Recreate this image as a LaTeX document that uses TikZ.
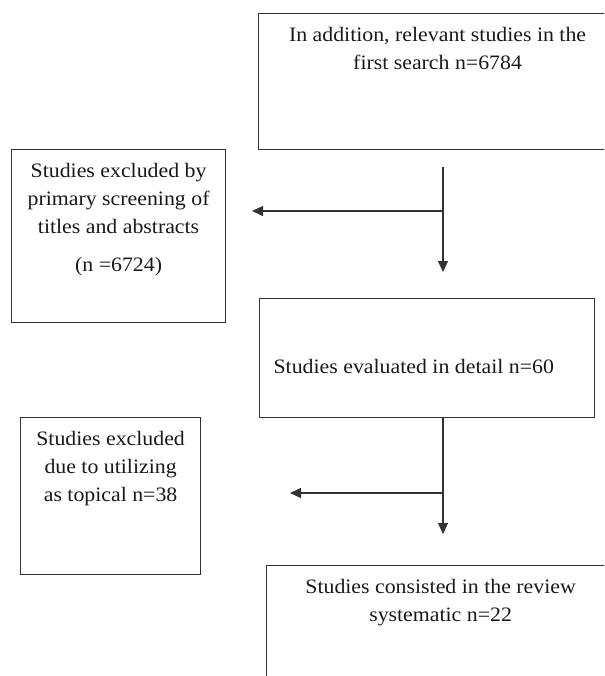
\documentclass[tikz,border=0pt]{standalone}
\usepackage{fontspec}
\setmainfont{Liberation Serif}[FakeStretch=1.065]
\usetikzlibrary{arrows.meta,positioning}

\begin{document}
\begin{tikzpicture}[x=1pt,y=-1pt,line width=1.2pt,>={Triangle[length=11pt,width=10pt]},
  box/.style={draw=black!80,line width=1.2pt,inner sep=0pt,anchor=north west},
  txt/.style={text=black!90,font=\fontsize{20.5}{28}\selectfont,align=center,inner sep=0pt}]
\useasboundingbox (0,0) rectangle (604,676);
\clip (0,0) rectangle (604,676);
% ---------- boxes ----------
\node[box,minimum width=358pt,minimum height=136pt] (search) at (258,13) {};
\node[box,minimum width=214pt,minimum height=173pt] (screen) at (11,149) {};
\node[box,minimum width=335pt,minimum height=119pt] (detail) at (259,298) {};
\node[box,minimum width=180pt,minimum height=157pt] (topical) at (20,417) {};
\node[box,minimum width=348pt,minimum height=140pt] (review) at (266,565) {};
% ---------- texts ----------
\node[txt,below=14pt of search.north] (searchtxt) {In addition, relevant studies in the\\first search n=6784};
\node[txt,below=14pt of screen.north] (screentxt) {Studies excluded by\\primary screening of\\titles and abstracts\\[10pt](n =6724)};
\node[txt,anchor=base west] (detailtxt) at ([xshift=14pt,yshift=-15.5pt]detail.west) {Studies evaluated in detail n=60};
\node[txt,below=14pt of topical.north] (topicaltxt) {Studies excluded\\due to utilizing\\as topical n=38};
\node[txt,below=14pt of review.north] (reviewtxt) {Studies consisted in the review\\systematic n=22};
% ---------- connectors ----------
\coordinate (down1) at (443,167);
\coordinate (down1end) at (443,272);
\coordinate (split1) at (443,211);
\coordinate (left1end) at (252,211);
\coordinate (down2end) at (443,534);
\coordinate (split2) at (443,493);
\coordinate (left2end) at (290,493);
\draw[->,black!80] (down1) -- (down1end);
\draw[->,black!80] (split1) -- (left1end);
\draw[->,black!80] (detail.south -| down2end) -- (down2end);
\draw[->,black!80] (split2) -- (left2end);
\end{tikzpicture}
\end{document}
